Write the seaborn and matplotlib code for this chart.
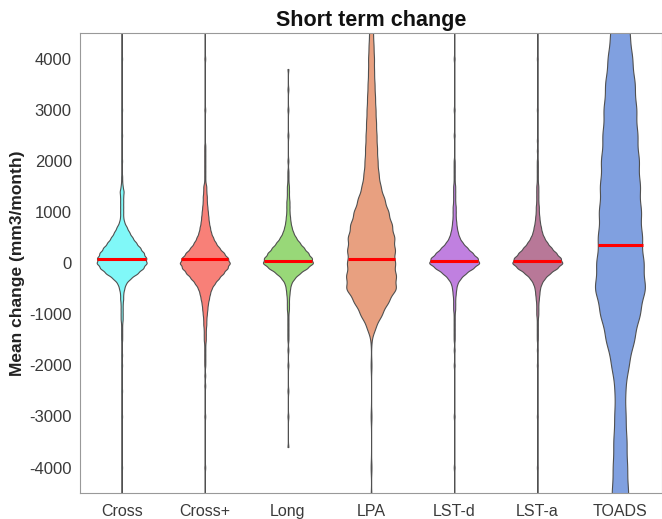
import numpy as np
import pandas as pd
import matplotlib
matplotlib.use("Agg")
import matplotlib.pyplot as plt
import seaborn as sns

# categories and look
CATEGORIES = ["Cross", "Cross+", "Long", "LPA", "LST-d", "LST-a", "TOADS"]
COLORS = ["#80F8F8", "#F88078", "#98D878", "#E8A080", "#C080E0", "#B87898", "#80A0E0"]
MEDIANS = [80, 80, 40, 80, 40, 40, 350]

# histogram-style reading of the violins: level (mm3/month) and relative count
Y_CORE = [1500, 1400, 1300, 1200, 1100, 1000, 900, 800, 700, 600, 500, 400, 300, 200, 100, 0,
          -100, -200, -300, -400, -500, -600, -700, -800, -900, -1000, -1100, -1200, -1300, -1400, -1500]

CROSS_COUNTS = [2, 4, 3, 3, 3, 3, 3, 5, 10, 15, 21, 28, 36, 43, 48, 49,
                42, 31, 17, 8, 5, 3, 3, 2, 2, 2, 2, 1, 1, 1, 1]
CROSS_TAIL = [-4600, -4000, -3000, -2500, -2000, -1800, 1600, 1700, 2000, 2500, 3000, 4000, 4600]

CROSSP_COUNTS = [3, 3, 4, 4, 5, 6, 7, 8, 10, 12, 16, 21, 28, 37, 45, 49,
                 44, 36, 27, 19, 13, 10, 8, 6, 5, 4, 3, 3, 2, 2, 2]
CROSSP_TAIL = [-4600, -4000, -3000, -2400, -2200, -2000, -1900, -1800, -1700, -1600,
               1600, 1700, 1800, 1900, 2000, 2100, 2200, 2300, 3000, 4000, 4600]

LONG_COUNTS = [2, 2, 2, 3, 3, 3, 4, 5, 7, 10, 15, 22, 30, 38, 45, 48,
               36, 22, 12, 6, 4, 3, 2, 2, 2, 1, 1, 1, 1, 1, 1]
LONG_TAIL = [-3600, -3000, -2500, -2000, -1700, 1600, 1700, 1800, 2000, 2500, 3000, 3400, 3800]

LSTD_COUNTS = [2, 2, 2, 2, 3, 3, 3, 4, 5, 7, 10, 16, 25, 35, 45, 49,
               36, 22, 12, 6, 4, 3, 2, 2, 2, 1, 1, 1, 1, 1, 1]
LSTD_TAIL = [-4600, -4000, -3000, -2000, -1700, 1600, 1700, 1800, 1900, 2000, 2500, 3000, 4000, 4600]

LSTA_COUNTS = [2, 2, 2, 2, 3, 3, 4, 5, 7, 9, 13, 19, 27, 36, 45, 49,
               38, 24, 14, 8, 5, 4, 3, 2, 2, 2, 1, 1, 1, 1, 1]
LSTA_TAIL = [-4600, -4000, -3000, -2000, -1700, 1600, 1700, 1800, 1900, 2000, 2200, 2400, 3000, 4000, 4600]

LPA_LEVELS = [5000, 4750, 4500, 4250, 4000, 3750, 3500, 3250, 3000, 2750, 2500, 2250, 2000, 1750,
              1500, 1250, 1000, 750, 500, 250, 0, -250, -500, -750, -1000, -1250, -1500,
              -2000, -3000, -4000, -4600]
LPA_COUNTS = [3, 3, 4, 5, 6, 6, 7, 8, 9, 10, 11, 12, 13, 15,
              19, 27, 35, 42, 47, 48, 48, 50, 51, 35, 22, 9, 1,
              1, 1, 1, 1]

TOADS_LEVELS = [5500, 5000, 4500, 4000, 3500, 3000, 2500, 2000, 1500, 1000, 500, 0,
                -500, -1000, -1500, -2000, -2500, -3000, -3500, -4000, -4500, -5000, -5500]
TOADS_COUNTS = [9, 14, 19, 24, 29, 32, 34, 37, 39, 41, 43, 46,
                50, 39, 28, 17, 10, 11, 13, 14, 16, 17, 18]

# kernel width used for each violin (in data units)
BANDWIDTH = [50, 50, 50, 125, 50, 50, 250]


def samples(levels, counts, tail=()):
    vals = np.repeat(np.array(levels, dtype=float), counts)
    return np.concatenate([vals, np.array(tail, dtype=float)])


data = {
    "Cross": samples(Y_CORE, CROSS_COUNTS, CROSS_TAIL),
    "Cross+": samples(Y_CORE, CROSSP_COUNTS, CROSSP_TAIL),
    "Long": samples(Y_CORE, LONG_COUNTS, LONG_TAIL),
    "LPA": samples(LPA_LEVELS, LPA_COUNTS),
    "LST-d": samples(Y_CORE, LSTD_COUNTS, LSTD_TAIL),
    "LST-a": samples(Y_CORE, LSTA_COUNTS, LSTA_TAIL),
    "TOADS": samples(TOADS_LEVELS, TOADS_COUNTS),
}
df = pd.concat([pd.DataFrame({"method": k, "change": v}) for k, v in data.items()], ignore_index=True)

sns.set_style("white")
plt.rcParams["font.family"] = ["Liberation Sans", "DejaVu Sans"]
plt.rcParams["axes.unicode_minus"] = False

fig = plt.figure(figsize=(6.62, 5.19), dpi=100)
ax = fig.add_axes([0.121, 0.050, 0.879, 0.886])

for i, (cat, col, bw) in enumerate(zip(CATEGORIES, COLORS, BANDWIDTH)):
    vals = data[cat]
    factor = len(vals) ** (-1 / 5) * np.std(vals, ddof=1)
    sns.violinplot(data=df[df["method"] == cat], x="method", y="change", order=CATEGORIES,
                   color=col, saturation=1, bw_adjust=bw / factor, cut=0, inner=None,
                   gridsize=1500, density_norm="width", width=0.6, linewidth=0.8,
                   linecolor="#505050", ax=ax)
    # red median bar across the violin body
    verts = ax.collections[-1].get_paths()[0].vertices
    left = verts[verts[:, 0] <= i]
    right = verts[verts[:, 0] >= i]
    lo = left[np.argsort(left[:, 1])]
    ro = right[np.argsort(right[:, 1])]
    xl = np.interp(MEDIANS[i], lo[:, 1], lo[:, 0])
    xr = np.interp(MEDIANS[i], ro[:, 1], ro[:, 0])
    ax.plot([xl, xr], [MEDIANS[i], MEDIANS[i]], color="#FF0000", lw=2.2, solid_capstyle="butt", zorder=5)

ax.set_ylim(-4500, 4500)
ax.set_xlim(-0.5, 6.5)
ax.set_yticks([-4000, -3000, -2000, -1000, 0, 1000, 2000, 3000, 4000])
ax.tick_params(axis="y", length=0, labelsize=12, colors="#3a3a3a", pad=6)
ax.tick_params(axis="x", length=0, labelsize=11.5, colors="#3a3a3a", pad=8)
ax.set_xlabel("")
ax.set_ylabel("Mean change (mm3/month)", fontsize=12.5, fontweight="bold", color="#222222", labelpad=3)
ax.set_title("Short term change", fontsize=15.5, fontweight="bold", color="#111111", pad=5)
for side in ["left", "top", "bottom", "right"]:
    ax.spines[side].set_color("#999999")
    ax.spines[side].set_linewidth(0.8)

fig.savefig("out.png", dpi=100)
